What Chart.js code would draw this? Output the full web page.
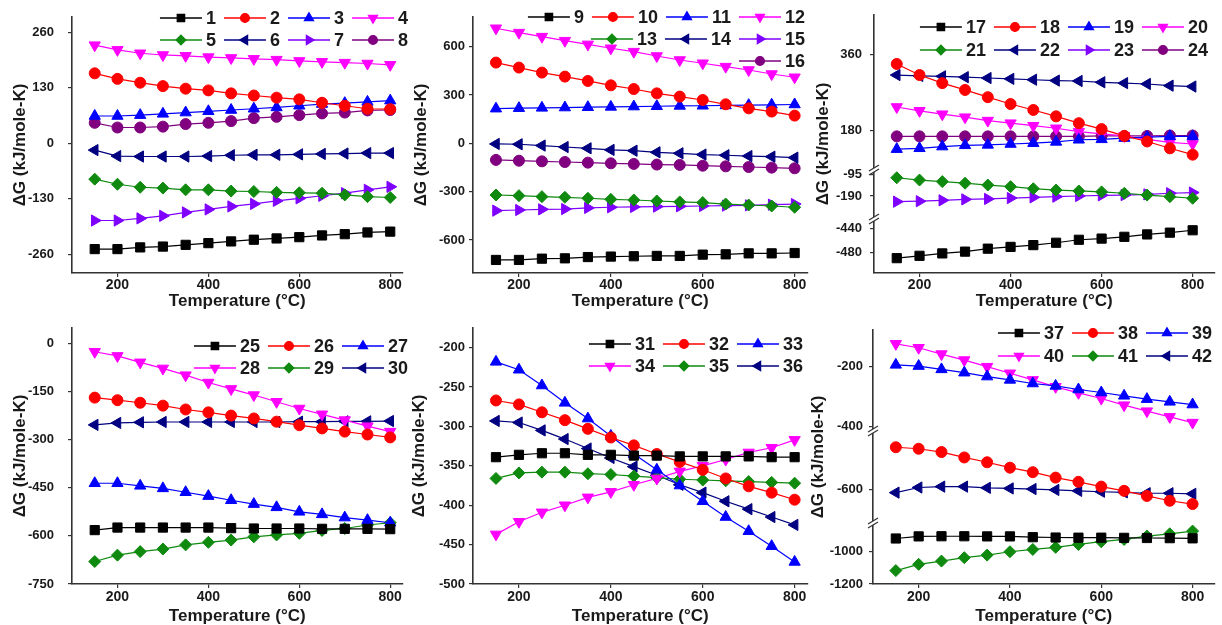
<!DOCTYPE html>
<html>
<head>
<meta charset="utf-8">
<script src="https://cdn.jsdelivr.net/npm/chart.js@4.4.1/dist/chart.umd.min.js"></script>
<style>
  body { margin: 0; background: #fff; width: 1222px; height: 625px; overflow: hidden; position: relative; }
  .panel { position: absolute; }
</style>
</head>
<body>
<div class="panel" style="left:0px;top:0px;width:410px;height:315px"><canvas id="c1"></canvas></div>
<div class="panel" style="left:405px;top:0px;width:410px;height:315px"><canvas id="c2"></canvas></div>
<div class="panel" style="left:810px;top:0px;width:412px;height:315px"><canvas id="c3"></canvas></div>
<div class="panel" style="left:0px;top:310px;width:410px;height:315px"><canvas id="c4"></canvas></div>
<div class="panel" style="left:405px;top:310px;width:410px;height:315px"><canvas id="c5"></canvas></div>
<div class="panel" style="left:810px;top:310px;width:412px;height:315px"><canvas id="c6"></canvas></div>
<script>
// temperatures (°C)
const temps = [150, 200, 250, 300, 350, 400, 450, 500, 550, 600, 650, 700, 750, 800];
const xTicks = [200, 400, 600, 800];

// panel 1 : reactions 1-8
const p1Labels = ['1', '2', '3', '4', '5', '6', '7', '8'];
const p1Values = [
  [-248, -248, -244, -242, -238, -234, -230, -226, -223, -220, -216, -213, -209, -207],
  [164, 151, 142, 134, 128, 124, 117, 112, 107, 103, 95, 88, 81, 80],
  [64, 64, 66, 69, 72, 75, 78, 81, 84, 88, 92, 94, 97, 100],
  [230, 219, 211, 207, 205, 202, 200, 198, 196, 193, 191, 189, 187, 184],
  [-84, -96, -103, -105, -109, -109, -112, -113, -115, -116, -117, -121, -125, -127],
  [-16, -30, -31, -31, -31, -30, -28, -27, -27, -26, -25, -24, -23, -23],
  [-181, -181, -176, -170, -162, -155, -148, -142, -135, -129, -123, -117, -109, -102],
  [48, 37, 37, 39, 45, 48, 52, 59, 62, 66, 70, 72, 77, 78]
];
const p1Ticks = [-260, -130, 0, 130, 260];

// panel 2 : reactions 9-16
const p2Labels = ['9', '10', '11', '12', '13', '14', '15', '16'];
const p2Values = [
  [-724, -724, -716, -714, -706, -703, -701, -699, -699, -691, -689, -683, -683, -681],
  [501, 470, 439, 414, 387, 360, 337, 310, 290, 269, 242, 217, 197, 172],
  [215, 218, 220, 222, 224, 226, 228, 230, 232, 233, 235, 237, 239, 241],
  [714, 687, 662, 637, 614, 590, 569, 542, 517, 497, 476, 455, 430, 410],
  [-321, -325, -331, -335, -341, -348, -352, -358, -364, -368, -377, -383, -389, -397],
  [-4, -6, -14, -23, -31, -41, -46, -56, -62, -70, -74, -79, -83, -89],
  [-418, -414, -410, -408, -401, -397, -395, -393, -391, -389, -387, -385, -381, -377],
  [-103, -108, -112, -116, -120, -124, -128, -132, -134, -139, -143, -147, -151, -155]
];
const p2Ticks = [-600, -300, 0, 300, 600];

// panel 3 : reactions 17-24 (broken axis)
const p3Labels = ['17', '18', '19', '20', '21', '22', '23', '24'];
const p3Values = [
  [-490, -486, -482, -479, -474, -471, -468, -464, -459, -457, -454, -450, -447, -443],
  [337, 311, 292, 276, 259, 243, 229, 214, 198, 184, 168, 155, 139, 124],
  [137, 139, 143, 146, 147, 149, 151, 154, 159, 160, 163, 165, 167, 167],
  [236, 227, 219, 212, 204, 198, 192, 186, 178, 173, 168, 160, 153, 149],
  [-110, -120, -127, -134, -142, -149, -158, -164, -168, -172, -178, -186, -193, -200],
  [311, 309, 308, 306, 304, 302, 300, 298, 297, 294, 292, 290, 286, 284],
  [-215, -213, -209, -205, -203, -199, -196, -193, -190, -187, -186, -183, -178, -175],
  [167, 167, 167, 167, 167, 167, 167, 167, 167, 168, 168, 168, 169, 169]
];
const p3Axis = ['yC', 'yA', 'yA', 'yA', 'yB', 'yA', 'yB', 'yA'];
const p3TicksA = [180, 360];
const p3TicksB = [-190, -95];
const p3TicksC = [-480, -440];

// panel 4 : reactions 25-30
const p4Labels = ['25', '26', '27', '28', '29', '30'];
const p4Values = [
  [-582, -574, -574, -574, -574, -574, -576, -577, -577, -577, -578, -578, -578, -579],
  [-169, -177, -185, -194, -206, -215, -225, -234, -244, -255, -265, -275, -284, -293],
  [-436, -436, -444, -452, -464, -476, -489, -501, -511, -525, -533, -543, -551, -559],
  [-26, -39, -59, -78, -99, -122, -142, -161, -182, -203, -221, -239, -258, -275],
  [-680, -660, -649, -641, -628, -620, -613, -603, -597, -592, -583, -577, -566, -559],
  [-254, -248, -246, -245, -245, -245, -245, -245, -245, -244, -244, -243, -243, -242]
];
const p4Ticks = [-750, -600, -450, -300, -150, 0];

// panel 5 : reactions 31-36
const p5Labels = ['31', '32', '33', '34', '35', '36'];
const p5Values = [
  [-339, -336, -334, -334, -336, -336, -337, -337, -338, -338, -338, -338, -339, -339],
  [-267, -272, -282, -292, -303, -314, -324, -335, -345, -355, -366, -376, -384, -393],
  [-218, -228, -248, -270, -290, -312, -335, -355, -375, -395, -415, -433, -452, -472],
  [-437, -421, -409, -400, -390, -383, -374, -366, -357, -350, -342, -333, -327, -317],
  [-366, -359, -358, -358, -360, -361, -363, -365, -367, -368, -369, -370, -371, -372],
  [-293, -295, -305, -316, -328, -340, -351, -362, -374, -384, -395, -405, -415, -425]
];
const p5Ticks = [-500, -450, -400, -350, -300, -250, -200];

// panel 6 : reactions 37-42 (broken axis)
const p6Labels = ['37', '38', '39', '40', '41', '42'];
const p6Values = [
  [-918, -905, -904, -904, -905, -905, -910, -912, -913, -913, -914, -915, -916, -917],
  [-460, -465, -476, -494, -510, -528, -543, -561, -575, -591, -605, -622, -638, -649],
  [-194, -198, -209, -220, -233, -244, -256, -264, -276, -286, -297, -308, -317, -326],
  [-124, -137, -158, -178, -200, -222, -244, -267, -287, -306, -328, -348, -367, -386],
  [-1117, -1078, -1058, -1037, -1021, -1000, -986, -973, -955, -938, -924, -903, -889, -872],
  [-611, -594, -591, -591, -595, -597, -599, -602, -605, -608, -610, -613, -613, -615]
];
const p6Axis = ['yC', 'yB', 'yA', 'yA', 'yC', 'yB'];
const p6TicksA = [-400, -200];
const p6TicksB = [-600];
const p6TicksC = [-1200, -1000];

const FONT = '"Liberation Sans", Arial, sans-serif';
const LEGEND_FONT = 'bold 18px "Liberation Sans Narrow", "Liberation Sans", Arial, sans-serif';
const INK = '#1a1a1a';

// Origin-like symbol cycle
const styles = [
  { color: '#000000', shape: 'rect', rot: 0, r: 6.5 },
  { color: '#ff0000', shape: 'circle', rot: 0, r: 5.5 },
  { color: '#0000ff', shape: 'triangle', rot: 0, r: 6.5 },
  { color: '#ff00ff', shape: 'triangle', rot: 180, r: 6.5 },
  { color: '#0f8a0f', shape: 'rectRot', rot: 0, r: 6 },
  { color: '#000080', shape: 'triangle', rot: 270, r: 6.5 },
  { color: '#7f00ff', shape: 'triangle', rot: 90, r: 6.5 },
  { color: '#800080', shape: 'circle', rot: 0, r: 5.5 }
];

function makeSets(labels, values, axes) {
  return values.map((v, i) => {
    const s = styles[i];
    return {
      label: labels[i],
      data: v,
      yAxisID: axes ? axes[i] : 'y',
      borderColor: s.color,
      backgroundColor: s.color,
      borderWidth: 1.2,
      pointStyle: s.shape,
      pointRotation: s.rot,
      pointRadius: s.r,
      pointBorderWidth: 1,
      pointBackgroundColor: s.color,
      pointBorderColor: s.color,
      tension: 0
    };
  });
}

function tickMarks() {
  return { display: true, drawOnChartArea: false, drawTicks: true, tickLength: 4, color: '#333', lineWidth: 1.2 };
}

function xScale(max, height, titlePad, labelPad) {
  return {
    type: 'linear', min: 100, max: max,
    afterBuildTicks: s => { s.ticks = xTicks.map(v => ({ value: v })); },
    afterFit: s => { s.height = height; s.paddingLeft = 0; s.paddingRight = 0; },
    grid: tickMarks(),
    border: { display: true, color: '#333', width: 1.6 },
    ticks: { autoSkip: false, maxRotation: 0, padding: labelPad, color: INK,
      font: { family: FONT, size: 14, weight: 'bold' }, callback: v => String(v) },
    title: { display: true, text: 'Temperature (°C)', color: INK, padding: { top: 0, bottom: titlePad },
      font: { family: FONT, size: 17, weight: 'bold', lineHeight: 1 } }
  };
}

function yScale(min, max, ticks, width, labelPad, extra) {
  return Object.assign({
    type: 'linear', position: 'left', min: min, max: max,
    afterBuildTicks: s => { s.ticks = ticks.map(v => ({ value: v })); },
    afterFit: s => { s.width = width; s.paddingTop = 0; s.paddingBottom = 0; },
    grid: tickMarks(),
    border: { display: true, color: '#333', width: 1.6 },
    ticks: { autoSkip: false, padding: labelPad, color: INK,
      font: { family: FONT, size: 13, weight: 'bold' }, callback: v => String(v) }
  }, extra || {});
}

// y title, inside legend and axis breaks
function decor(p) {
  return {
    id: 'decor',
    afterDraw(chart) {
      const ctx = chart.ctx, area = chart.chartArea;
      ctx.save();

      (p.breaks || []).forEach(id => {
        const y = chart.scales[id].bottom, x = area.left;
        ctx.fillStyle = '#fff';
        ctx.fillRect(x - 7, y - 2, 14, 4);
        ctx.strokeStyle = '#333';
        ctx.lineWidth = 1.3;
        [-2, 2].forEach(d => {
          ctx.beginPath();
          ctx.moveTo(x - 5, y + d + 3);
          ctx.lineTo(x + 5, y + d - 3);
          ctx.stroke();
        });
      });

      ctx.fillStyle = INK;
      ctx.font = 'bold 17px ' + FONT;
      ctx.textAlign = 'center';
      ctx.textBaseline = 'middle';
      ctx.translate(p.titleX, (area.top + area.bottom) / 2);
      ctx.rotate(-Math.PI / 2);
      ctx.fillText('ΔG (kJ/mole-K)', 0, 0);
      ctx.setTransform(1, 0, 0, 1, 0, 0);

      ctx.font = LEGEND_FONT;
      ctx.textAlign = 'left';
      const lineLen = 42;
      p.rows.forEach((row, r) => {
        const y = p.rowY[r];
        let x = p.right;
        for (let k = row.length - 1; k >= 0; k--) {
          const ds = chart.data.datasets[row[k]];
          const tw = ctx.measureText(ds.label).width;
          x -= tw;
          ctx.fillStyle = INK;
          ctx.fillText(ds.label, x, y + 1);
          x -= 4;
          ctx.strokeStyle = ds.borderColor;
          ctx.lineWidth = 1.3;
          ctx.beginPath();
          ctx.moveTo(x - lineLen, y);
          ctx.lineTo(x, y);
          ctx.stroke();
          ctx.fillStyle = ds.pointBackgroundColor;
          Chart.helpers.drawPoint(ctx, {
            pointStyle: ds.pointStyle, rotation: ds.pointRotation,
            radius: ds.pointRadius * 0.8, borderWidth: 1
          }, x - lineLen / 2, y);
          x -= lineLen + 8;
        }
      });
      ctx.restore();
    }
  };
}

function build(id, labels, values, axes, scales, pad, deco) {
  new Chart(document.getElementById(id), {
    type: 'line',
    data: { labels: temps, datasets: makeSets(labels, values, axes) },
    options: {
      responsive: true,
      maintainAspectRatio: false,
      animation: false,
      layout: { padding: { left: 0, top: pad.top, right: pad.right, bottom: 0 } },
      plugins: { legend: { display: false }, tooltip: { enabled: false } },
      scales: scales
    },
    plugins: [decor(deco)]
  });
}

// panel 1
build('c1', p1Labels, p1Values, null, {
  x: xScale(827, 42, 5, 0),
  y: yScale(-304, 296, p1Ticks, 72, 14)
}, { top: 17, right: 0 }, { titleX: 20, right: 408, rowY: [18, 40], rows: [[0, 1, 2, 3], [4, 5, 6, 7]] });

// panel 2
build('c2', p2Labels, p2Values, null, {
  x: xScale(828, 42, 5, 0),
  y: yScale(-805, 784, p2Ticks, 68, 4)
}, { top: 17, right: 3 }, { titleX: 16, right: 400, rowY: [17, 39, 61], rows: [[0, 1, 2, 3], [4, 5, 6], [7]] });

// panel 3
build('c3', p3Labels, p3Values, p3Axis, {
  x: xScale(848, 42, 5, 0),
  yA: yScale(88, 452, p3TicksA, 64, 8, { stack: 'y', stackWeight: 155, weight: 3 }),
  yB: yScale(-291, -76, p3TicksB, 64, 8, { stack: 'y', stackWeight: 49, weight: 2 }),
  yC: yScale(-515, -424, p3TicksC, 64, 8, { stack: 'y', stackWeight: 54, weight: 1 })
}, { top: 15, right: 0 }, { titleX: 13, right: 398, rowY: [27, 50], rows: [[0, 1, 2, 3], [4, 5, 6, 7]], breaks: ['yA', 'yB'] });

// panel 4
build('c4', p4Labels, p4Values, null, {
  x: xScale(827, 41, 0, 1),
  y: yScale(-750, 48, p4Ticks, 72, 14)
}, { top: 18, right: 0 }, { titleX: 20, right: 408, rowY: [36, 58], rows: [[0, 1, 2], [3, 4, 5]] });

// panel 5
build('c5', p5Labels, p5Values, null, {
  x: xScale(828, 41, 0, 1),
  y: yScale(-500, -175, p5Ticks, 68, 4)
}, { top: 18, right: 3 }, { titleX: 14, right: 398, rowY: [34, 56], rows: [[0, 1, 2], [3, 4, 5]] });

// panel 6
build('c6', p6Labels, p6Values, p6Axis, {
  x: xScale(848, 41, 0, 1),
  yA: yScale(-414, -78, p6TicksA, 63, 6, { stack: 'y', stackWeight: 101, weight: 3 }),
  yB: yScale(-712, -406, p6TicksB, 63, 6, { stack: 'y', stackWeight: 92, weight: 2 }),
  yC: yScale(-1200, -822, p6TicksC, 63, 6, { stack: 'y', stackWeight: 61, weight: 1 })
}, { top: 20, right: 0 }, { titleX: 8, right: 402, rowY: [23, 46], rows: [[0, 1, 2], [3, 4, 5]], breaks: ['yA', 'yB'] });
</script>
</body>
</html>
